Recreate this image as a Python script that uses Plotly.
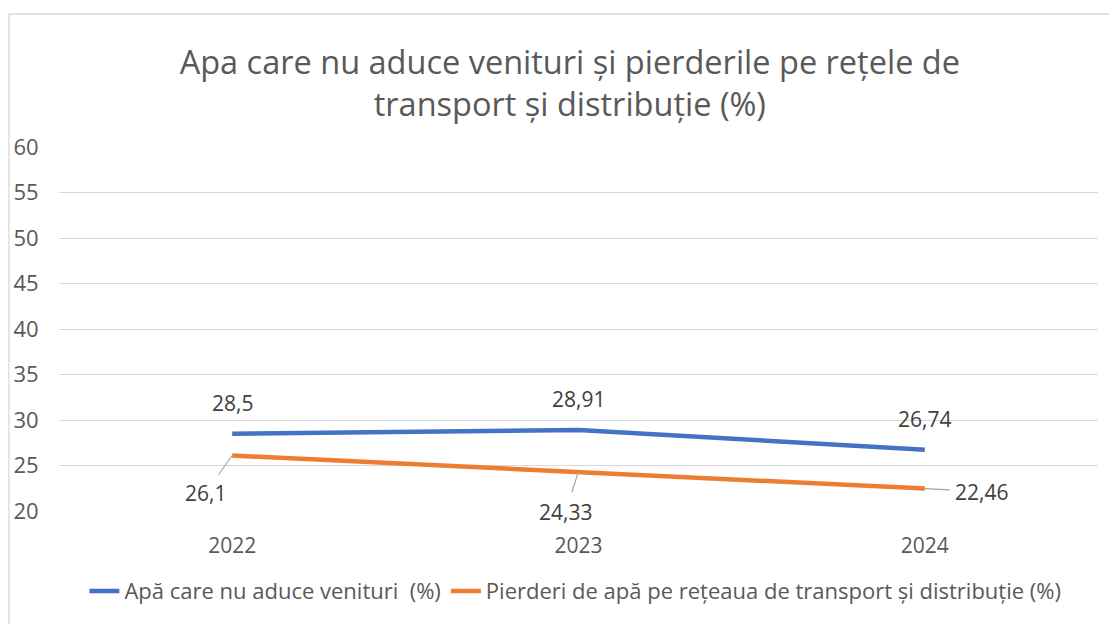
import plotly.graph_objects as go

years = ["2022", "2023", "2024"]
apa_nefacturata = [28.5, 28.91, 26.74]
pierderi_retea = [26.1, 24.33, 22.46]
series_names = ["Apă care nu aduce venituri  (%)",
                "Pierderi de apă pe rețeaua de transport și distribuție (%)"]
title_text = "Apa care nu aduce venituri și pierderile pe rețele de<br>transport și distribuție (%)"
y_ticks = [20, 25, 30, 35, 40, 45, 50, 55, 60]

BLUE = "#4472C4"
ORANGE = "#ED7D31"
FONT = "Open Sans"


def fmt(v):
    return f"{v:g}".replace(".", ",")


fig = go.Figure()
fig.add_trace(go.Scatter(x=years, y=apa_nefacturata, mode="lines", name=series_names[0],
                         line=dict(color=BLUE, width=4.5)))
fig.add_trace(go.Scatter(x=years, y=pierderi_retea, mode="lines", name=series_names[1],
                         line=dict(color=ORANGE, width=4.5)))

annotations = []
for i, v in enumerate(apa_nefacturata):
    annotations.append(dict(x=i, y=v, xref="x", yref="y", text=fmt(v), showarrow=False,
                            yshift=31, font=dict(size=21, color="#404040", family=FONT)))

orange_offsets = [(-27, 38), (-13, 40), (57, 3)]
for i, (v, (dx, dy)) in enumerate(zip(pierderi_retea, orange_offsets)):
    annotations.append(dict(x=i, y=v, xref="x", yref="y", text=fmt(v), showarrow=True,
                            ax=dx, ay=dy, arrowhead=0, arrowwidth=1.2, arrowcolor="#A6A6A6",
                            standoff=0, startstandoff=4,
                            font=dict(size=21, color="#404040", family=FONT)))

fig.update_layout(
    width=1117, height=624,
    paper_bgcolor="white", plot_bgcolor="white",
    margin=dict(l=51, r=27, t=139, b=121),
    font=dict(family=FONT, color="#595959", size=20),
    title=dict(text=title_text, x=0.503, xanchor="center", y=1 - 66 / 624, yanchor="middle",
               font=dict(size=32.5, color="#595959", family=FONT)),
    showlegend=True,
    legend=dict(orientation="h", x=0.497, xanchor="center", y=-0.22, yanchor="middle",
                font=dict(size=22, color="#595959", family=FONT)),
    annotations=annotations,
    shapes=[dict(type="rect", xref="paper", yref="paper",
                 x0=-0.0482, x1=1.05, y0=-0.5, y1=1.3654,
                 line=dict(color="#D9D9D9", width=1.3), fillcolor="rgba(0,0,0,0)", layer="below")],
)
fig.update_xaxes(type="category", range=[-0.5, 2.5], showgrid=False, showline=False,
                 zeroline=False, ticks="", ticklabelstandoff=20, automargin=False,
                 tickfont=dict(size=21, color="#595959"))
fig.update_yaxes(range=[20, 60], tickvals=y_ticks, showgrid=True, gridcolor="#D9D9D9",
                 gridwidth=1.2, zeroline=False, showline=False, automargin=False,
                 ticks="outside", ticklen=15, tickcolor="rgba(0,0,0,0)",
                 tickfont=dict(size=22, color="#595959"))

fig.write_html("out.html")
